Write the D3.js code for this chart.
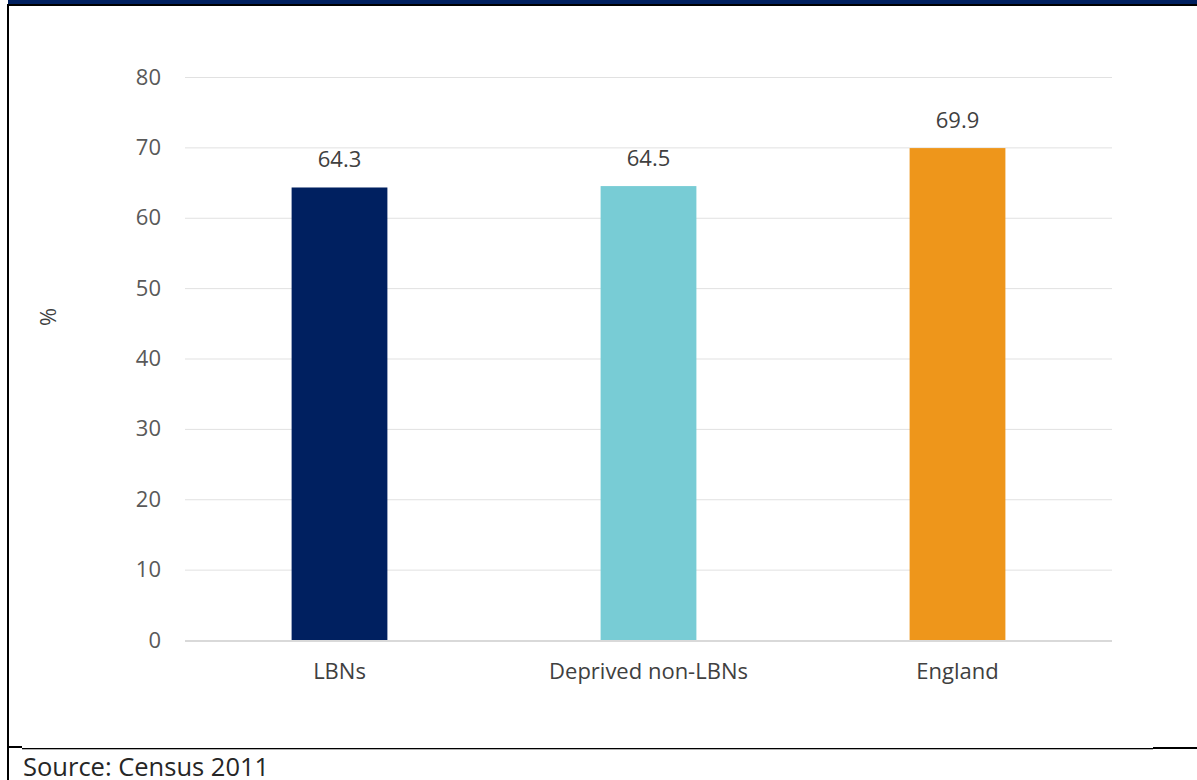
<!DOCTYPE html>
<html>
<head>
<meta charset="utf-8">
<script src="https://cdn.jsdelivr.net/npm/d3@7/dist/d3.min.js"></script>
<style>
  html, body { margin: 0; padding: 0; background: #fff; }
  svg { display: block; }
</style>
</head>
<body>
<svg id="chart" width="1197" height="780"></svg>
<script>
const categories = ["LBNs", "Deprived non-LBNs", "England"];
const values = [64.3, 64.5, 69.9];
const barColors = ["#002060", "#78CCD5", "#EE961B"];
const yTicks = [0, 10, 20, 30, 40, 50, 60, 70, 80];
const yLabel = "%";
const sourceText = "Source: Census 2011";

const svg = d3.select("#chart");
const font = "'Open Sans', Lato, sans-serif";

// frame / header
svg.append("rect").attr("x", 8).attr("y", 0).attr("width", 1189).attr("height", 5).attr("fill", "#002060");
svg.append("rect").attr("x", 7).attr("y", 4).attr("width", 1190).attr("height", 2).attr("fill", "#000");
svg.append("rect").attr("x", 7).attr("y", 4).attr("width", 2).attr("height", 776).attr("fill", "#000");
svg.append("rect").attr("x", 8).attr("y", 746).attr("width", 14).attr("height", 2).attr("fill", "#000");
svg.append("rect").attr("x", 22).attr("y", 748).attr("width", 1131).attr("height", 1.3).attr("fill", "#000");
svg.append("rect").attr("x", 1153).attr("y", 747).attr("width", 44).attr("height", 2).attr("fill", "#000");

const x = d3.scaleBand().domain(categories).range([185, 1112]).paddingInner(0.69).paddingOuter(0.345);
const y = d3.scaleLinear().domain([0, 80]).range([640, 77]);

// gridlines
svg.append("g").selectAll("line").data(yTicks.filter(d => d > 0)).join("line")
  .attr("x1", 185).attr("x2", 1112)
  .attr("y1", d => y(d) + 0.5).attr("y2", d => y(d) + 0.5)
  .attr("stroke", "#e1e1e1").attr("stroke-width", 1);

// y axis labels
const yAxis = d3.axisLeft(y).tickValues(yTicks).tickSize(0).tickPadding(0);
const gy = svg.append("g").attr("transform", "translate(161,0)").call(yAxis);
gy.select(".domain").remove();
gy.selectAll("text").attr("font-family", font).attr("font-size", 22).attr("fill", "#595959");

// bars
svg.append("g").selectAll("rect").data(values).join("rect")
  .attr("x", (d, i) => x(categories[i]))
  .attr("y", d => y(d))
  .attr("width", x.bandwidth())
  .attr("height", d => y(0) - y(d))
  .attr("fill", (d, i) => barColors[i]);

// baseline
svg.append("line").attr("x1", 185).attr("x2", 1112).attr("y1", y(0) + 1).attr("y2", y(0) + 1)
  .attr("stroke", "#d9d9d9").attr("stroke-width", 2);

// value labels
svg.append("g").selectAll("text").data(values).join("text")
  .attr("x", (d, i) => x(categories[i]) + x.bandwidth() / 2)
  .attr("y", d => y(d) - 20)
  .attr("text-anchor", "middle")
  .attr("font-family", font).attr("font-size", 22).attr("fill", "#404040")
  .text(d => d.toFixed(1));

// x axis labels
const xAxis = d3.axisBottom(x).tickSize(0).tickPadding(0);
const gx = svg.append("g").call(xAxis);
gx.select(".domain").remove();
gx.selectAll("text").attr("y", 679).attr("dy", null)
  .attr("font-family", font).attr("font-size", 22).attr("fill", "#404040");

// y label
svg.append("text")
  .attr("transform", "translate(56,317) rotate(-90)")
  .attr("text-anchor", "middle")
  .attr("font-family", font).attr("font-size", 22).attr("fill", "#404040")
  .text(yLabel);

// source
svg.append("text").attr("x", 23).attr("y", 776)
  .attr("font-family", font).attr("font-size", 25.5).attr("fill", "#262626")
  .text(sourceText);
</script>
</body>
</html>
